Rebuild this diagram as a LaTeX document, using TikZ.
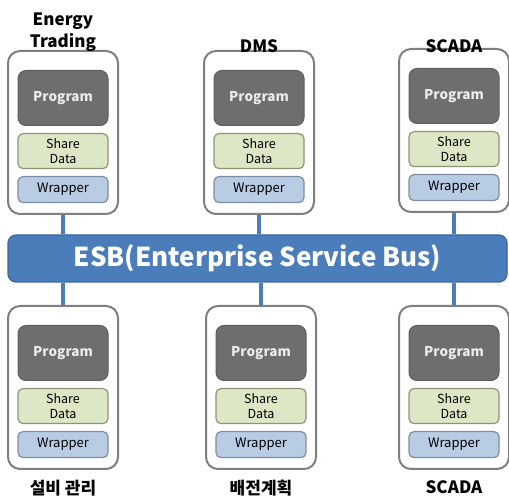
\documentclass[tikz,border=0pt]{standalone}
\usepackage{fontspec}
\setmainfont{Noto Sans CJK KR}
\definecolor{outgray}{HTML}{7F7F7F}
\definecolor{progfill}{HTML}{6E6E6E}
\definecolor{progdraw}{HTML}{5E5E5E}
\definecolor{sharefill}{HTML}{DDE7C6}
\definecolor{sharedraw}{HTML}{8C9677}
\definecolor{wrapfill}{HTML}{B8CCE4}
\definecolor{wrapdraw}{HTML}{7D8DA3}
\definecolor{busfill}{HTML}{4A7DBA}
\definecolor{busdraw}{HTML}{3A669C}
\tikzset{
  outerbox/.style={draw=outgray, line width=2pt, fill=white, rounded corners=12pt,
    minimum width=110pt, minimum height=163pt, anchor=north, inner sep=0pt},
  progbox/.style={draw=progdraw, fill=progfill, line width=1pt, rounded corners=8pt,
    minimum width=90pt, minimum height=55pt, anchor=north, inner sep=0pt, text=white!92!black,
    font=\bfseries\fontsize{13.5}{15}\selectfont},
  sharebox/.style={draw=sharedraw, fill=sharefill, line width=1.2pt, rounded corners=5pt,
    minimum width=90pt, minimum height=35pt, anchor=north, inner sep=0pt, align=center,
    font=\fontsize{12.5}{14.5}\selectfont},
  wrapbox/.style={draw=wrapdraw, fill=wrapfill, line width=1.2pt, rounded corners=5pt,
    minimum width=90pt, minimum height=26pt, anchor=north, inner sep=0pt,
    font=\fontsize{13}{15}\selectfont},
  titletext/.style={font=\bfseries\fontsize{17}{22}\selectfont, align=center, inner sep=0pt},
  bustext/.style={draw=busdraw, fill=busfill, line width=1.2pt, rounded corners=8pt,
    minimum width=499pt, minimum height=47pt, inner sep=0pt, text=white,
    font=\bfseries\fontsize{26}{28}\selectfont},
  link/.style={draw=busfill, line width=3.5pt}
}
\newcommand\mymodule[3]{%
  \node[outerbox] (#1) at (#2,#3) {};
  \node[progbox] (#1p) at (#2,#3+20) {Program};
  \node[sharebox] (#1s) at (#2,#3+83) {Share\\Data};
  \node[wrapbox] (#1w) at (#2,#3+126) {Wrapper};
}
\begin{document}
\begin{tikzpicture}[x=1pt,y=-1pt]
\useasboundingbox (0,0) rectangle (509,502);
% bus
\node[bustext] (bus) at (257.5,258.5) {ESB(Enterprise Service Bus)};
% modules
\mymodule{tl}{63}{50}
\mymodule{tm}{259}{50}
\mymodule{tr}{454}{48}
\mymodule{bl}{63}{305}
\mymodule{bm}{261}{305}
\mymodule{br}{454}{305}
% connectors
\draw[link] (tl.south) -- (tl.south |- bus.north);
\draw[link] (tm.south) -- (tm.south |- bus.north);
\draw[link] (tr.south) -- (tr.south |- bus.north);
\draw[link] (bl.north |- bus.south) -- (bl.north);
\draw[link] (bm.north |- bus.south) -- (bm.north);
\draw[link] (br.north |- bus.south) -- (br.north);
% titles
\node[titletext, anchor=south] (tlt) at ([yshift=-2pt]tl.north) {Energy\\Trading};
\node[titletext, anchor=south] (tmt) at ([yshift=-3pt]tm.north) {DMS};
\node[titletext, anchor=south] (trt) at ([yshift=-5pt]tr.north) {SCADA};
\node[titletext, anchor=north] (blt) at ([yshift=-10pt]bl.south) {설비 관리};
\node[titletext, anchor=north] (bmt) at ([yshift=-10pt]bm.south) {배전계획};
\node[titletext, anchor=north] (brt) at ([yshift=-10pt]br.south) {SCADA};
\end{tikzpicture}
\end{document}
